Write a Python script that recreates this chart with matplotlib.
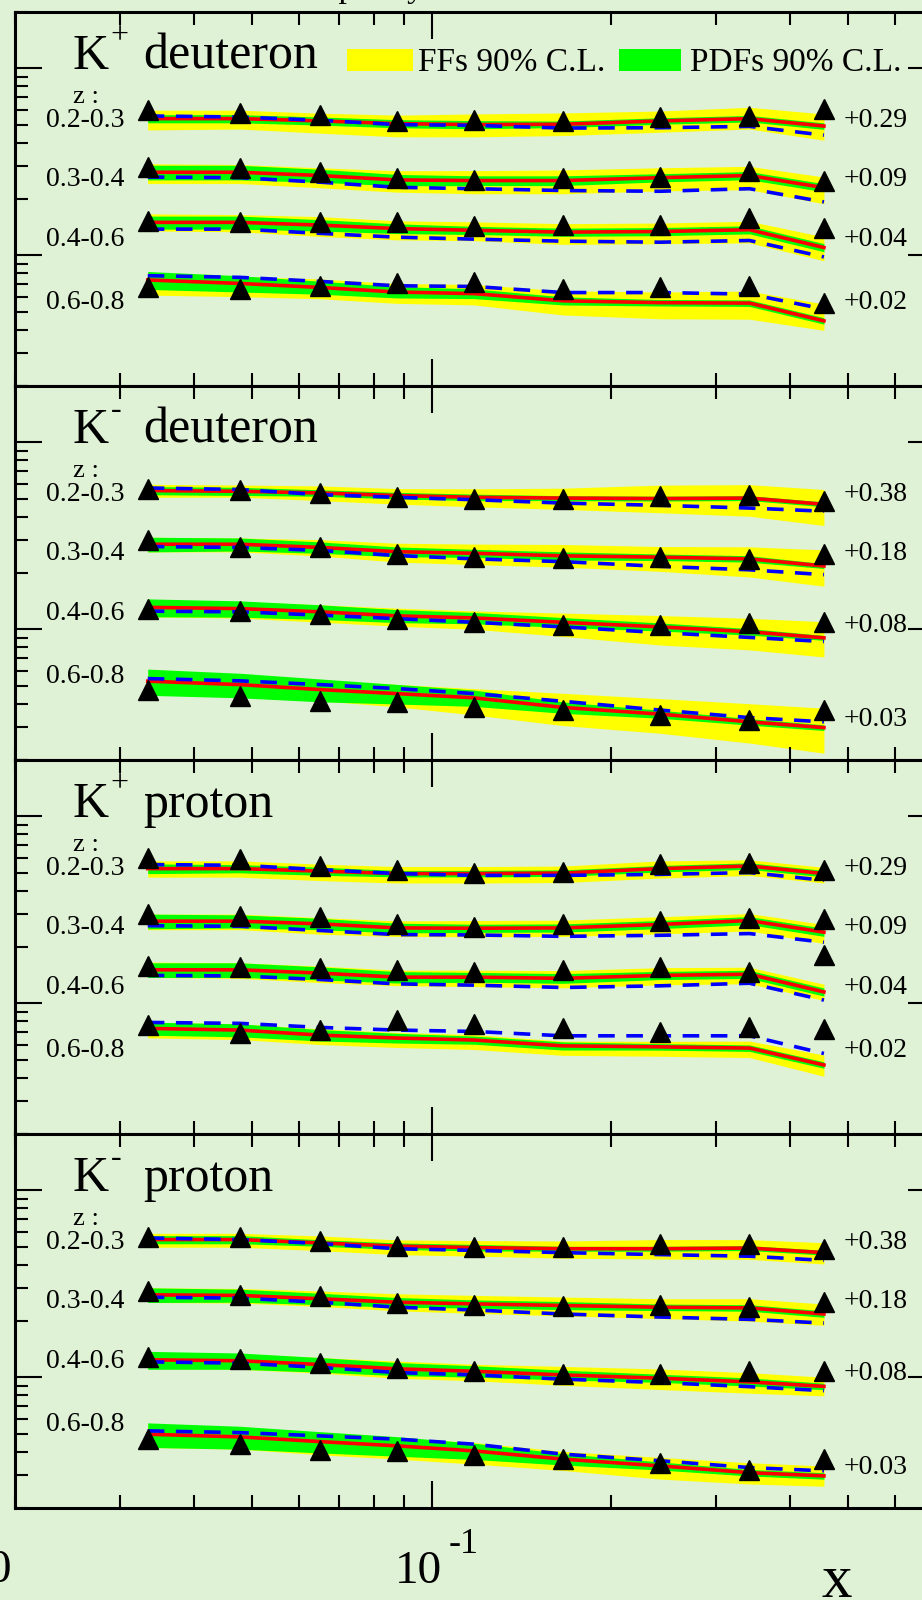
import numpy as np
import matplotlib
matplotlib.use('Agg')
import matplotlib.pyplot as plt
from matplotlib.patches import Rectangle
from matplotlib.ticker import LogLocator, NullFormatter

plt.rcParams['font.family'] = ['Liberation Serif', 'DejaVu Serif']

# x bins (Bjorken x)
x = [0.0334, 0.0477, 0.0650, 0.0874, 0.1178, 0.1662, 0.2416, 0.3415, 0.4553]

z_bins = ['0.2-0.3', '0.3-0.4', '0.4-0.6', '0.6-0.8']
shift_kplus = ['+0.29', '+0.09', '+0.04', '+0.02']
shift_kminus = ['+0.38', '+0.18', '+0.08', '+0.03']

# ---- K+ deuteron ----
red_kpd = [[0.538, 0.538, 0.523, 0.506, 0.500, 0.502, 0.523, 0.538, 0.491],
           [0.278, 0.278, 0.267, 0.253, 0.251, 0.251, 0.260, 0.267, 0.230],
           [0.150, 0.150, 0.145, 0.139, 0.136, 0.133, 0.134, 0.137, 0.110],
           [0.0738, 0.0707, 0.0673, 0.0636, 0.0624, 0.0571, 0.0558, 0.0555, 0.0446]]
blue_kpd = [[0.556, 0.549, 0.527, 0.500, 0.495, 0.479, 0.481, 0.489, 0.439],
            [0.262, 0.260, 0.246, 0.231, 0.227, 0.222, 0.220, 0.227, 0.193],
            [0.138, 0.138, 0.131, 0.125, 0.122, 0.119, 0.1175, 0.120, 0.098],
            [0.0778, 0.0762, 0.0725, 0.0687, 0.0681, 0.0632, 0.0632, 0.0620, 0.0516]]
data_kpd = [[0.596, 0.577, 0.566, 0.521, 0.532, 0.521, 0.547, 0.554, 0.603],
            [0.298, 0.294, 0.280, 0.260, 0.254, 0.260, 0.262, 0.283, 0.250],
            [0.1525, 0.150, 0.150, 0.1516, 0.143, 0.146, 0.146, 0.159, 0.140],
            [0.0679, 0.0657, 0.0687, 0.0710, 0.0719, 0.0660, 0.0676, 0.0681, 0.0558]]
ffup_kpd = [[0.11, 0.11, 0.10, 0.11, 0.14, 0.15, 0.13, 0.15, 0.16],
            [0.11, 0.10, 0.10, 0.12, 0.13, 0.14, 0.13, 0.12, 0.14],
            [0.11, 0.10, 0.11, 0.10, 0.11, 0.11, 0.11, 0.11, 0.14],
            [0.09, 0.09, 0.11, 0.11, 0.12, 0.13, 0.14, 0.16, 0.23]]
ffdn_kpd = [[0.13, 0.12, 0.14, 0.15, 0.14, 0.13, 0.13, 0.12, 0.16],
            [0.13, 0.13, 0.14, 0.14, 0.15, 0.15, 0.15, 0.16, 0.18],
            [0.10, 0.11, 0.13, 0.13, 0.12, 0.14, 0.14, 0.15, 0.15],
            [0.17, 0.15, 0.13, 0.13, 0.13, 0.16, 0.18, 0.18, 0.11]]
pdf_kpd = [[0.05, 0.05, 0.05, 0.05, 0.05, 0.04, 0.04, 0.04, 0.04],
           [0.09, 0.09, 0.08, 0.07, 0.06, 0.06, 0.05, 0.05, 0.05],
           [0.08, 0.08, 0.07, 0.06, 0.05, 0.05, 0.05, 0.05, 0.05],
           [0.11, 0.10, 0.08, 0.07, 0.06, 0.05, 0.04, 0.04, 0.04]]

# ---- K- deuteron ----
red_kmd = [[0.552, 0.547, 0.536, 0.519, 0.508, 0.503, 0.500, 0.503, 0.466],
           [0.285, 0.285, 0.274, 0.260, 0.255, 0.247, 0.243, 0.238, 0.218],
           [0.131, 0.129, 0.124, 0.118, 0.115, 0.109, 0.103, 0.097, 0.090],
           [0.0528, 0.0506, 0.0476, 0.0453, 0.0430, 0.0382, 0.0352, 0.0320, 0.0298]]
blue_kmd = [[0.570, 0.559, 0.525, 0.508, 0.493, 0.473, 0.460, 0.445, 0.428],
            [0.277, 0.274, 0.264, 0.248, 0.238, 0.230, 0.217, 0.208, 0.196],
            [0.125, 0.124, 0.119, 0.114, 0.109, 0.103, 0.096, 0.0905, 0.086],
            [0.0545, 0.0530, 0.0506, 0.0482, 0.0453, 0.0412, 0.0370, 0.0337, 0.0320]]
data_kmd = [[0.566, 0.556, 0.536, 0.509, 0.500, 0.500, 0.514, 0.521, 0.483],
            [0.300, 0.276, 0.274, 0.252, 0.245, 0.242, 0.245, 0.239, 0.254],
            [0.129, 0.125, 0.120, 0.113, 0.110, 0.106, 0.106, 0.108, 0.110],
            [0.0474, 0.0442, 0.0414, 0.0408, 0.0385, 0.0368, 0.0350, 0.0327, 0.0368]]
ffup_kmd = [[0.08, 0.08, 0.09, 0.09, 0.11, 0.13, 0.18, 0.18, 0.20],
            [0.09, 0.08, 0.10, 0.11, 0.12, 0.15, 0.14, 0.16, 0.22],
            [0.09, 0.09, 0.09, 0.10, 0.09, 0.12, 0.15, 0.18, 0.22],
            [0.12, 0.12, 0.12, 0.12, 0.12, 0.19, 0.21, 0.25, 0.27]]
ffdn_kmd = [[0.08, 0.07, 0.09, 0.10, 0.11, 0.13, 0.16, 0.20, 0.23],
            [0.09, 0.09, 0.10, 0.12, 0.13, 0.13, 0.16, 0.20, 0.22],
            [0.11, 0.11, 0.12, 0.12, 0.13, 0.16, 0.20, 0.20, 0.21],
            [0.12, 0.12, 0.13, 0.15, 0.19, 0.20, 0.21, 0.23, 0.27]]
pdf_kmd = [[0.05, 0.05, 0.04, 0.04, 0.04, 0.03, 0.03, 0.03, 0.03],
           [0.09, 0.08, 0.07, 0.06, 0.05, 0.05, 0.04, 0.04, 0.03],
           [0.11, 0.10, 0.09, 0.08, 0.07, 0.06, 0.05, 0.04, 0.03],
           [0.16, 0.15, 0.14, 0.12, 0.10, 0.07, 0.05, 0.04, 0.035]]

# ---- K+ proton ----
red_kpp = [[0.525, 0.525, 0.509, 0.494, 0.494, 0.497, 0.525, 0.542, 0.494],
           [0.275, 0.275, 0.266, 0.253, 0.252, 0.253, 0.264, 0.277, 0.240],
           [0.151, 0.151, 0.145, 0.138, 0.138, 0.136, 0.141, 0.143, 0.115],
           [0.0734, 0.0719, 0.0676, 0.0652, 0.0636, 0.0592, 0.0585, 0.0576, 0.0468]]
blue_kpp = [[0.552, 0.547, 0.519, 0.494, 0.483, 0.483, 0.489, 0.500, 0.455],
            [0.260, 0.258, 0.245, 0.233, 0.232, 0.228, 0.231, 0.236, 0.212],
            [0.141, 0.140, 0.134, 0.127, 0.125, 0.1215, 0.124, 0.128, 0.104],
            [0.0790, 0.0781, 0.0743, 0.0719, 0.0707, 0.0670, 0.0670, 0.0670, 0.0539]]
data_kpp = [[0.601, 0.594, 0.542, 0.514, 0.500, 0.503, 0.556, 0.561, 0.519],
            [0.299, 0.293, 0.289, 0.264, 0.257, 0.266, 0.277, 0.287, 0.283],
            [0.1575, 0.1556, 0.1545, 0.1512, 0.147, 0.1513, 0.1556, 0.147, 0.1805],
            [0.0768, 0.0696, 0.0716, 0.081, 0.0778, 0.0738, 0.0704, 0.0747, 0.0731]]
ffup_kpp = [[0.10, 0.10, 0.09, 0.09, 0.09, 0.09, 0.10, 0.08, 0.08],
            [0.09, 0.09, 0.08, 0.09, 0.10, 0.10, 0.10, 0.09, 0.10],
            [0.10, 0.09, 0.09, 0.09, 0.09, 0.10, 0.10, 0.09, 0.10],
            [0.08, 0.08, 0.08, 0.07, 0.07, 0.06, 0.07, 0.09, 0.13]]
ffdn_kpp = [[0.10, 0.10, 0.11, 0.11, 0.11, 0.11, 0.11, 0.11, 0.11],
            [0.10, 0.10, 0.12, 0.10, 0.10, 0.10, 0.11, 0.12, 0.13],
            [0.09, 0.10, 0.11, 0.10, 0.11, 0.11, 0.11, 0.11, 0.10],
            [0.11, 0.11, 0.11, 0.11, 0.11, 0.11, 0.11, 0.11, 0.13]]
pdf_kpp = [[0.06, 0.05, 0.05, 0.04, 0.04, 0.04, 0.04, 0.04, 0.04],
           [0.09, 0.08, 0.07, 0.06, 0.05, 0.05, 0.05, 0.05, 0.05],
           [0.09, 0.09, 0.08, 0.07, 0.06, 0.06, 0.05, 0.05, 0.05],
           [0.08, 0.08, 0.07, 0.06, 0.05, 0.05, 0.04, 0.04, 0.04]]

# ---- K- proton ----
red_kmp = [[0.545, 0.545, 0.523, 0.503, 0.494, 0.487, 0.487, 0.491, 0.464],
           [0.276, 0.274, 0.263, 0.252, 0.247, 0.242, 0.237, 0.235, 0.218],
           [0.124, 0.1226, 0.117, 0.111, 0.1077, 0.103, 0.0989, 0.0945, 0.0894],
           [0.0496, 0.0480, 0.0453, 0.0430, 0.0404, 0.0365, 0.0336, 0.0309, 0.0297]]
blue_kmp = [[0.556, 0.545, 0.519, 0.487, 0.477, 0.464, 0.453, 0.444, 0.422],
            [0.268, 0.265, 0.252, 0.237, 0.229, 0.218, 0.210, 0.204, 0.195],
            [0.121, 0.119, 0.113, 0.106, 0.103, 0.0977, 0.0937, 0.0891, 0.0848],
            [0.0517, 0.0506, 0.0486, 0.0467, 0.0439, 0.0388, 0.0358, 0.0329, 0.0316]]
data_kmp = [[0.561, 0.561, 0.538, 0.506, 0.495, 0.495, 0.514, 0.514, 0.483],
            [0.289, 0.275, 0.273, 0.250, 0.245, 0.242, 0.243, 0.237, 0.253],
            [0.129, 0.1246, 0.1187, 0.1118, 0.1083, 0.1047, 0.1047, 0.1083, 0.1083],
            [0.0470, 0.0442, 0.0411, 0.0402, 0.0386, 0.0366, 0.0346, 0.0321, 0.0366]]
ffup_kmp = [[0.08, 0.08, 0.09, 0.08, 0.09, 0.10, 0.12, 0.11, 0.13],
            [0.09, 0.09, 0.10, 0.11, 0.11, 0.11, 0.11, 0.12, 0.13],
            [0.08, 0.09, 0.09, 0.10, 0.09, 0.11, 0.12, 0.12, 0.12],
            [0.14, 0.12, 0.12, 0.10, 0.11, 0.10, 0.11, 0.13, 0.13]]
ffdn_kmp = [[0.09, 0.09, 0.09, 0.10, 0.10, 0.11, 0.12, 0.13, 0.13],
            [0.09, 0.09, 0.09, 0.10, 0.11, 0.12, 0.13, 0.15, 0.13],
            [0.10, 0.10, 0.10, 0.11, 0.11, 0.12, 0.13, 0.13, 0.11],
            [0.15, 0.14, 0.15, 0.15, 0.15, 0.13, 0.15, 0.13, 0.12]]
pdf_kmp = [[0.05, 0.05, 0.04, 0.04, 0.04, 0.03, 0.03, 0.03, 0.03],
           [0.09, 0.08, 0.07, 0.06, 0.05, 0.05, 0.04, 0.04, 0.04],
           [0.11, 0.10, 0.09, 0.08, 0.07, 0.06, 0.05, 0.05, 0.04],
           [0.15, 0.14, 0.13, 0.12, 0.10, 0.07, 0.05, 0.04, 0.04]]

panels = [
    ('+', 'deuteron', shift_kplus, red_kpd, blue_kpd, data_kpd, ffup_kpd, ffdn_kpd, pdf_kpd),
    ('-', 'deuteron', shift_kminus, red_kmd, blue_kmd, data_kmd, ffup_kmd, ffdn_kmd, pdf_kmd),
    ('+', 'proton', shift_kplus, red_kpp, blue_kpp, data_kpp, ffup_kpp, ffdn_kpp, pdf_kpp),
    ('-', 'proton', shift_kminus, red_kmp, blue_kmp, data_kmp, ffup_kmp, ffdn_kmp, pdf_kmp),
]

bg = '#dff2d5'
W, H = 922, 1600
left_px, top_px, panel_px = 15, 12, 374
xlo, xhi = 0.02, 0.7
ax_w = 596 * np.log10(xhi / xlo) / W

# label heights (axes fraction)
zlab_y = [0.711, 0.551, 0.393, 0.222]
shift_y_plus = [0.711, 0.551, 0.393, 0.222]
shift_y_minus = [0.711, 0.551, 0.36, 0.107]

fig = plt.figure(figsize=(W / 100, H / 100), dpi=100)
fig.patch.set_facecolor(bg)

xs = np.array(x)
for i, (sign, target, shifts, red, blue, dat, ffup, ffdn, pdf) in enumerate(panels):
    top = top_px + i * panel_px
    ax = fig.add_axes([left_px / W, 1 - (top + panel_px) / H, ax_w, panel_px / H])
    ax.set_facecolor(bg)
    ax.set_xscale('log')
    ax.set_yscale('log')
    ax.set_xlim(xlo, xhi)
    ax.set_ylim(0.02, 2)

    for k in range(4):
        r = np.array(red[k])
        ax.fill_between(xs, r * (1 - np.array(ffdn[k])), r * (1 + np.array(ffup[k])),
                        color='#ffff00', lw=0, zorder=1)
        ax.fill_between(xs, r * (1 - np.array(pdf[k])), r * (1 + np.array(pdf[k])),
                        color='#00ff00', lw=0, zorder=2)
        ax.plot(xs, r, color='#ff0000', lw=2.6, zorder=3)
        ax.plot(xs, blue[k], color='#0000ff', lw=2.6, ls=(0, (4.6, 3.2)), zorder=4)
        ax.plot(xs, dat[k], ls='none', marker='^', ms=14.5, color='black', zorder=5)

        ax.text(0.076, zlab_y[k], z_bins[k], transform=ax.transAxes, fontsize=20,
                ha='center', va='center')
        sy = shift_y_plus if sign == '+' else shift_y_minus
        ax.text(0.90, sy[k], shifts[k], transform=ax.transAxes, fontsize=20,
                ha='left', va='center')

    ax.text(0.077, 0.774, 'z :', transform=ax.transAxes, fontsize=19, ha='center', va='center')
    ax.text(0.063, 0.848, 'K', transform=ax.transAxes, fontsize=36, va='baseline')
    ax.text(0.104, 0.915, sign, transform=ax.transAxes, fontsize=23, va='baseline')
    ax.text(0.139, 0.848, target, transform=ax.transAxes, fontsize=36, va='baseline')

    if i == 0:
        ax.add_patch(Rectangle((0.361, 0.842), 0.0717, 0.059, transform=ax.transAxes,
                               color='#ffff00', lw=0, zorder=6))
        ax.text(0.438, 0.842, 'FFs 90% C.L.', transform=ax.transAxes, fontsize=24,
                va='baseline')
        ax.add_patch(Rectangle((0.656, 0.842), 0.0674, 0.059, transform=ax.transAxes,
                               color='#00ff00', lw=0, zorder=6))
        ax.text(0.733, 0.842, 'PDFs 90% C.L.', transform=ax.transAxes, fontsize=24,
                va='baseline')

    for axis in (ax.xaxis, ax.yaxis):
        axis.set_major_locator(LogLocator(base=10, numticks=10))
        axis.set_minor_locator(LogLocator(base=10, subs=np.arange(2, 10), numticks=20))
        axis.set_major_formatter(NullFormatter())
        axis.set_minor_formatter(NullFormatter())
    ax.tick_params(which='both', direction='in', top=True, right=True,
                   labelbottom=False, labelleft=False, color='black')
    ax.tick_params(which='major', length=19.5, width=1.5)
    ax.tick_params(which='minor', length=9.5, width=1.5)
    for sp in ax.spines.values():
        sp.set_linewidth(2.2)

# outer texts
fig.text(418 / W, 1 - 1583 / H, '10', fontsize=34, ha='center', va='baseline')
fig.text(449 / W, 1 - 1553 / H, '-1', fontsize=26, ha='left', va='baseline')
fig.text(837 / W, 1 - 1597 / H, 'x', fontsize=44, ha='center', va='baseline')
fig.text(11 / W, 1 - 1582 / H, '0', fontsize=34, ha='right', va='baseline')
fig.text(268 / W, 1 + 3 / H, 'multiplicity', fontsize=24, ha='left', va='baseline')

fig.savefig('out.png', dpi=100, facecolor=bg)
